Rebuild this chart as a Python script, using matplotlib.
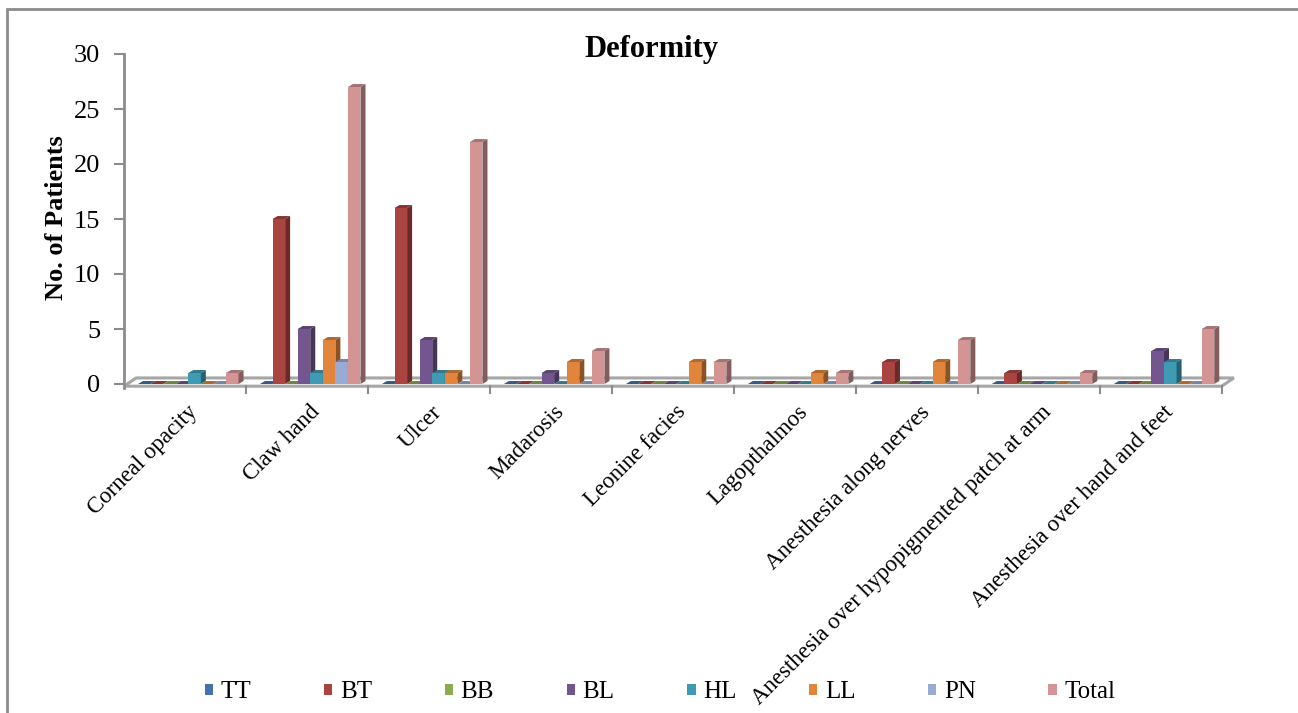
import matplotlib
matplotlib.use("Agg")
import matplotlib.pyplot as plt
from matplotlib.patches import Polygon, Patch, Rectangle
import numpy as np

plt.rcParams["font.family"] = ["Liberation Serif", "DejaVu Serif"]

# ── Data ─────────────────────────────────────────────────────────────────────
categories = [
    "Corneal opacity", "Claw hand", "Ulcer", "Madarosis", "Leonine facies",
    "Lagopthalmos", "Anesthesia along nerves",
    "Anesthesia over hypopigmented patch at arm",
    "Anesthesia over hand and feet",
]
series = ["TT", "BT", "BB", "BL", "HL", "LL", "PN", "Total"]

TT    = [0, 0, 0, 0, 0, 0, 0, 0, 0]
BT    = [0, 15, 16, 0, 0, 0, 2, 1, 0]
BB    = [0, 0, 0, 0, 0, 0, 0, 0, 0]
BL    = [0, 5, 4, 1, 0, 0, 0, 0, 3]
HL    = [1, 1, 1, 0, 0, 0, 0, 0, 2]
LL    = [0, 4, 1, 2, 2, 1, 2, 0, 0]
PN    = [0, 2, 0, 0, 0, 0, 0, 0, 0]
Total = [1, 27, 22, 3, 2, 1, 4, 1, 5]
values = [TT, BT, BB, BL, HL, LL, PN, Total]

colors = ["#4572AA", "#AA4441", "#8CAA50", "#735690", "#3F9BB3",
          "#E0853B", "#97ABD4", "#D49493"]

yticks = [0, 5, 10, 15, 20, 25, 30]

# ── Geometry of the pseudo-3D columns ────────────────────────────────────────
BAR_W  = 0.103   # width of one column (category = 1.0)
OFFSET = 0.115   # gap before first column in a category
DX, DY = 0.041, 0.27   # depth offset of side/top faces
GRAY = "#8C8C8C"


def shade(c, f):
    r, g, b = matplotlib.colors.to_rgb(c)
    return (r * f, g * f, b * f)


fig = plt.figure(figsize=(12.98, 7.13), dpi=100)
ax = fig.add_axes([124 / 1298, 1 - 388.4 / 713, 1116 / 1298, 334.4 / 713])
ax.set_xlim(0, 9.15)
ax.set_ylim(-0.4, 30)

# floor slab
floor = Polygon([(0, -0.2), (9, -0.2), (9.1, 0.55), (0.1, 0.55)],
                closed=True, facecolor="white", edgecolor="#A6A6A6",
                lw=2.2, zorder=1)
ax.add_patch(floor)
ax.plot([0, 9], [-0.42, -0.42], color="#A6A6A6", lw=1.2, zorder=1)
for i in range(1, 10):
    ax.plot([i, i], [-0.2, -0.8], color=GRAY, lw=1.5, clip_on=False, zorder=1)

# columns, left to right so each one covers its neighbour's side face
z = 2
for i in range(len(categories)):
    for k, (name, vals) in enumerate(zip(series, values)):
        v = vals[i]
        xl = i + OFFSET + k * BAR_W
        xr = xl + BAR_W
        col = colors[k]
        ax.bar(xl, v, width=BAR_W, align="edge", color=col, lw=0, zorder=z)
        side = Polygon([(xr, 0), (xr + DX, DY), (xr + DX, v + DY), (xr, v)],
                       closed=True, facecolor=shade(col, 0.62), lw=0, zorder=z)
        top = Polygon([(xl, v), (xr, v), (xr + DX, v + DY), (xl + DX, v + DY)],
                      closed=True, facecolor=shade(col, 0.78), lw=0, zorder=z)
        ax.add_patch(side)
        ax.add_patch(top)
        z += 1

# axes styling
for s in ["top", "right", "bottom"]:
    ax.spines[s].set_visible(False)
ax.spines["left"].set_color(GRAY)
ax.spines["left"].set_linewidth(2)
ax.spines["left"].set_bounds(-0.4, 30)
ax.set_yticks(yticks)
ax.tick_params(axis="y", length=7, width=1.5, color=GRAY, labelsize=19, pad=10)
ax.set_xticks([])
ax.patch.set_alpha(0)

# rotated category labels
for i, lab in enumerate(categories):
    ax.text(i + 0.52, -1.6, lab, rotation=45, ha="right", va="top",
            rotation_mode="anchor", fontsize=16.5, clip_on=False)

fig.text(0.502, 1 - 50 / 713, "Deformity", ha="center", va="center",
         fontsize=22, fontweight="bold")
fig.text(57 / 1298, 1 - 218 / 713, "No. of Patients", rotation=90,
         ha="center", va="center", fontsize=19, fontweight="bold")

handles = [Patch(facecolor=c, edgecolor="none") for c in colors]
fig.legend(handles, series, loc="center", bbox_to_anchor=(0.5085, 0.029),
           ncol=8, frameon=False, fontsize=18, handlelength=0.34,
           handleheight=0.34, handletextpad=0.3, columnspacing=2.9)

# outer border
fig.add_artist(Rectangle((7 / 1298, -0.05), 1.2, 1 - 9 / 713 + 0.05,
                         transform=fig.transFigure, fill=False,
                         edgecolor=GRAY, lw=2))

fig.savefig("out.png", dpi=100)
